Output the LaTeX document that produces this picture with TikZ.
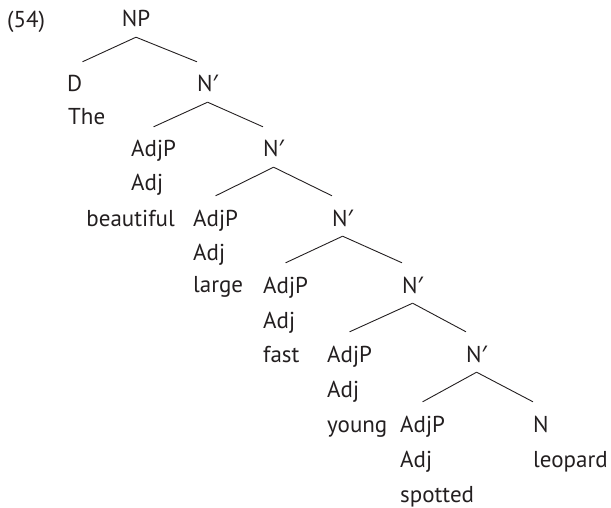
\documentclass[tikz,border=0pt]{standalone}
\usepackage{fontspec}
\setmainfont{PT Sans}
\newfontfamily\primefont{Noto Sans}
\usetikzlibrary{positioning}
\definecolor{ink}{HTML}{231F20}
\newcommand{\Nbar}{N{\primefont ′}}

\begin{document}
\begin{tikzpicture}[x=1pt, y=-1pt, font=\fontsize{23}{26}\selectfont,
        every node/.style={inner sep=0pt, text=ink},
        cat/.style={text height=30pt, text depth=10pt, anchor=base west},
        word/.style={anchor=base west},
        branch/.style={draw=ink, line width=0.9pt}]
      \useasboundingbox (0,0) rectangle (611,508);
      \node[word] (ex) at (7,28) {(54)};
      \node[cat, anchor=base] (np) at (136,27) {NP};
      \node[cat] (d) at (67,92) {D};
      \node[word] (the) at (68,125) {The};
      \node[cat] (nbar1) at (197,92) {\Nbar};
      \node[cat] (adjp1) at (131,157) {AdjP};
      \node[word] (adj1) at (131,191) {Adj};
      \node[word, anchor=base east] (beautiful) at (175,226) {beautiful};
      \node[cat] (nbar2) at (263,157) {\Nbar};
      \node[cat] (adjp2) at (193,226) {AdjP};
      \node[word] (adj2) at (193,261) {Adj};
      \node[word] (large) at (193,292) {large};
      \node[cat] (nbar3) at (332,226) {\Nbar};
      \node[cat] (adjp3) at (263,293) {AdjP};
      \node[word] (adj3) at (263,328) {Adj};
      \node[word] (fast) at (263,362) {fast};
      \node[cat] (nbar4) at (402,293) {\Nbar};
      \node[cat] (adjp4) at (327,362) {AdjP};
      \node[word] (adj4) at (327,397) {Adj};
      \node[word] (young) at (327,432) {young};
      \node[cat] (nbar5) at (466,362) {\Nbar};
      \node[cat] (adjp5) at (400,432) {AdjP};
      \node[word] (adj5) at (400,467) {Adj};
      \node[word] (spotted) at (400,502) {spotted};
      \node[cat] (n) at (533,432) {N};
      \node[word] (leopard) at (533,467) {leopard};
      \draw[branch] (np.south) -- (d.north east);
      \draw[branch] (np.south) -- (nbar1.north west);
      \draw[branch] (nbar1.south) -- (adjp1.north);
      \draw[branch] (nbar1.south) -- (nbar2.north west);
      \draw[branch] (nbar2.south) -- (adjp2.north);
      \draw[branch] (nbar2.south) -- (nbar3.north west);
      \draw[branch] (nbar3.south) -- (adjp3.north);
      \draw[branch] (nbar3.south) -- (nbar4.north west);
      \draw[branch] (nbar4.south) -- (adjp4.north);
      \draw[branch] (nbar4.south) -- (nbar5.north west);
      \draw[branch] (nbar5.south) -- (adjp5.north);
      \draw[branch] (nbar5.south) -- (n.north west);
    \end{tikzpicture}
\end{document}
